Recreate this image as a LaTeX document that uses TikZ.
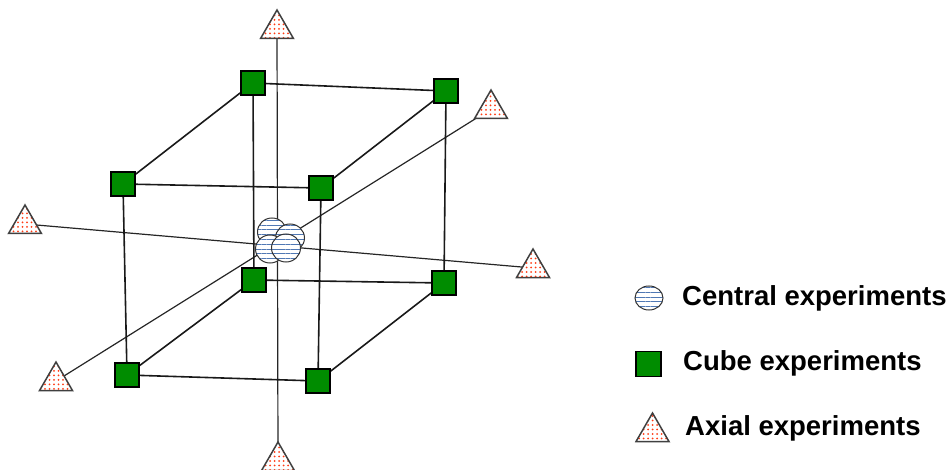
\documentclass[tikz,border=0pt]{standalone}
\usepackage{fontspec}
\setmainfont{Liberation Sans}
\usetikzlibrary{shapes.geometric,patterns.meta,backgrounds}
\definecolor{cubegreen}{RGB}{0,140,0}
\definecolor{stripeblue}{RGB}{80,120,180}
\definecolor{dotred}{RGB}{255,60,20}
\tikzset{
  cubept/.style={rectangle,draw=black,line width=1.5pt,fill=cubegreen,minimum size=24pt,inner sep=0pt},
  axialpt/.style={regular polygon,regular polygon sides=3,draw={black!75},line width=1.5pt,
    preaction={fill=white},pattern color=dotred,pattern={Dots[radius=1pt,distance=4.5pt]},
    minimum size=38pt,inner sep=0pt},
  centralpt/.style={ellipse,draw={black!80},line width=1pt,preaction={fill=white},
    pattern color=stripeblue,pattern={Lines[angle=0,distance=4.8pt,line width=1pt]},
    minimum width=29pt,minimum height=28pt,inner sep=0pt},
  edge/.style={draw=black!90,line width=1.6pt},
  axisline/.style={draw=black!85,line width=1.2pt},
  legendtext/.style={anchor=base west,inner sep=0pt,font=\bfseries\fontsize{27.5}{30}\selectfont}
}
\begin{document}
\begin{tikzpicture}[x=1pt,y=-1pt]
\useasboundingbox (0,0) rectangle (947,470);
% cube points
\node[cubept] (btl) at (253,83) {};
\node[cubept] (btr) at (446,91) {};
\node[cubept] (ftl) at (123,184) {};
\node[cubept] (ftr) at (321,188) {};
\node[cubept] (bbl) at (254,280) {};
\node[cubept] (bbr) at (444,283) {};
\node[cubept] (fbl) at (127,375) {};
\node[cubept] (fbr) at (318,381) {};
% axial points
\node[axialpt] (aT) at (277,29) {};
\node[axialpt] (aB) at (278,461) {};
\node[axialpt] (aL) at (25,224) {};
\node[axialpt] (aR) at (533,268) {};
\node[axialpt] (aUR) at (491,109) {};
\node[axialpt] (aLL) at (56,381) {};
% central points
\node[centralpt] (c1) at (272,232) {};
\node[centralpt] (c2) at (290,238) {};
\node[centralpt] (c3) at (270,249) {};
\node[centralpt] (c4) at (286,248) {};
\begin{scope}[on background layer]
  \draw[axisline] (aT.center) -- (aB.center);
  \draw[axisline] (aL.center) -- (aR.center);
  \draw[axisline] (aLL.center) -- (aUR.center);
  \draw[edge] (btl) -- (btr);
  \draw[edge] (btl) -- (ftl);
  \draw[edge] (btr) -- (ftr);
  \draw[edge] (ftl) -- (ftr);
  \draw[edge] (bbl) -- (bbr);
  \draw[edge] (bbl) -- (fbl);
  \draw[edge] (bbr) -- (fbr);
  \draw[edge] (fbl) -- (fbr);
  \draw[edge] (btl) -- (bbl);
  \draw[edge] (btr) -- (bbr);
  \draw[edge] (ftl) -- (fbl);
  \draw[edge] (ftr) -- (fbr);
\end{scope}
% legend
\node[centralpt,minimum width=28pt,minimum height=24pt] (lc) at (649,298) {};
\node[legendtext] (lct) at (682,305) {Central experiments};
\node[cubept,minimum size=25pt] (lq) at (648.5,364) {};
\node[legendtext] (lqt) at (683,370) {Cube experiments};
\node[axialpt] (la) at (652.5,432) {};
\node[legendtext] (lat) at (685,435) {Axial experiments};
\end{tikzpicture}
\end{document}
